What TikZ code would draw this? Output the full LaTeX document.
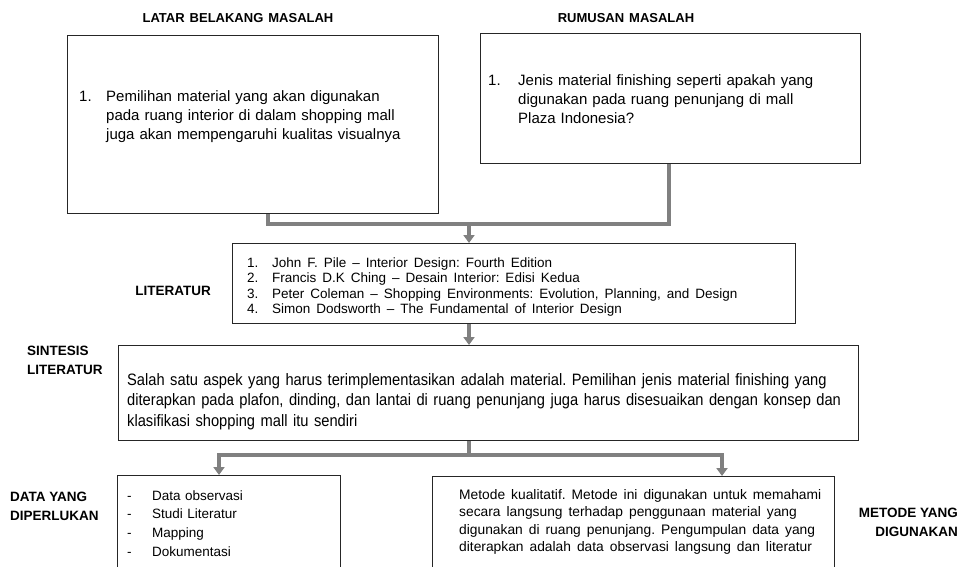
\documentclass[tikz,border=0pt]{standalone}
\usepackage{fontspec}
\setmainfont{Liberation Sans}
\newfontfamily\narrowfont[FakeStretch=0.89]{Liberation Sans}
\usetikzlibrary{arrows.meta}
\newcommand\fsz[2]{\fontsize{#1}{#2}\selectfont}
\frenchspacing
\begin{document}
\begin{tikzpicture}[x=1pt,y=-1pt,
  box/.style={draw=black!85, line width=0.9pt, anchor=north west, inner sep=0pt, fill=white},
  conn/.style={draw=black!50, line width=3.2pt},
  arr/.style={conn, -{Triangle[length=8pt,width=11pt]}},
  lbl/.style={font=\bfseries\fsz{13.5}{19}, inner sep=0pt, align=left},
  ttl/.style={font=\bfseries\fsz{13}{16}, inner sep=0pt},
  txt/.style={inner sep=0pt, anchor=base west, align=left}]

\useasboundingbox (0,0) rectangle (966,567);
\clip (0,0) rectangle (966,567);
\fill[white] (0,0) rectangle (966,567);

% titles
\node[ttl] (t1) at (238,18) {LATAR\hspace{5pt}BELAKANG\hspace{5pt}MASALAH};
\node[ttl] (t2) at (626,18) {RUMUSAN\hspace{5pt}MASALAH};

% box 1
\node[box, minimum width=371pt, minimum height=178pt] (b1) at (67,35) {};
\node[txt, font=\fsz{15}{19}] (n1) at (79,102) {1.};
\node[txt, font=\fsz{15}{19}, text width=325pt] (x1) at (106,102)
  {Pemilihan material yang akan digunakan\\pada ruang interior di dalam shopping mall\\juga akan mempengaruhi kualitas visualnya};

% box 2
\node[box, minimum width=380pt, minimum height=130pt] (b2) at (480,33) {};
\node[txt, font=\fsz{15}{19}] (n2) at (488,86) {1.};
\node[txt, font=\fsz{15}{19}, text width=335pt] (x2) at (518,86)
  {Jenis material finishing seperti apakah yang\\digunakan pada ruang penunjang di mall\\Plaza Indonesia?};

% literatur
\node[lbl] (l3) at (173,291) {LITERATUR};
\node[box, minimum width=563pt, minimum height=80pt] (b3) at (232,243) {};
\node[txt, font=\fsz{13.5}{15.5}, text width=40pt] (n3) at (247,267) {1.\\2.\\3.\\4.};
\node[txt, font=\fsz{13.5}{15.5}, text width=520pt] (x3) at (272,267)
  {\spaceskip=6pt plus 1pt John F. Pile -- Interior Design: Fourth Edition\\
   Francis D.K Ching -- Desain Interior: Edisi Kedua\\
   Peter Coleman -- Shopping Environments: Evolution, Planning, and Design\\
   Simon Dodsworth -- The Fundamental of Interior Design};

% sintesis
\node[lbl, anchor=north west] (l4) at (27,346) {SINTESIS\\LITERATUR};
\node[box, minimum width=740pt, minimum height=95pt] (b4) at (118,345) {};
\node[txt, font=\narrowfont\fsz{16.5}{20.5}, text width=735pt] (x4) at (127,385)
  {Salah satu aspek yang harus terimplementasikan adalah material. Pemilihan jenis material finishing yang\\
   diterapkan pada plafon, dinding, dan lantai di ruang penunjang juga harus disesuaikan dengan konsep dan\\
   klasifikasi shopping mall itu sendiri};

% data
\node[lbl, anchor=north west] (l5) at (10,492) {DATA YANG\\DIPERLUKAN};
\node[box, minimum width=223pt, minimum height=110pt] (b5) at (117,475) {};
\node[txt, font=\fsz{13.5}{18.7}, text width=20pt] (n5) at (127,500) {-\\-\\-\\-};
\node[txt, font=\fsz{13.5}{18.7}, text width=180pt] (x5) at (152,500)
  {Data observasi\\Studi Literatur\\Mapping\\Dokumentasi};

% metode
\node[lbl, anchor=north east, align=right] (l6) at (958,508) {METODE YANG\\DIGUNAKAN};
\node[box, minimum width=402pt, minimum height=110pt] (b6) at (432,476) {};
\node[txt, font=\fsz{13.8}{17.5}, text width=375pt] (x6) at (459,499)
  {\spaceskip=6pt plus 3pt Metode kualitatif. Metode ini digunakan untuk memahami\\
   secara langsung terhadap penggunaan material yang\\
   digunakan di ruang penunjang. Pengumpulan data yang\\
   diterapkan adalah data observasi langsung dan literatur};

% connectors
\coordinate (p1) at (268,224);
\coordinate (p2) at (669,224);
\coordinate (j1) at (469,224);
\draw[conn] (b1.south -| p1) -- (p1) -- (p2) -- (b2.south -| p2);
\draw[arr] (j1) -- (b3.north -| j1);
\draw[arr] (b3.south -| j1) -- (b4.north -| j1);
\coordinate (j2) at (469,455);
\coordinate (q1) at (219,455);
\coordinate (q2) at (722,455);
\draw[conn] (b4.south -| j2) -- (j2);
\draw[conn] ([xshift=-1.6pt]q1) -- ([xshift=1.6pt]q2);
\draw[arr] (q1) -- (b5.north -| q1);
\draw[arr] (q2) -- (b6.north -| q2);
\end{tikzpicture}
\end{document}
